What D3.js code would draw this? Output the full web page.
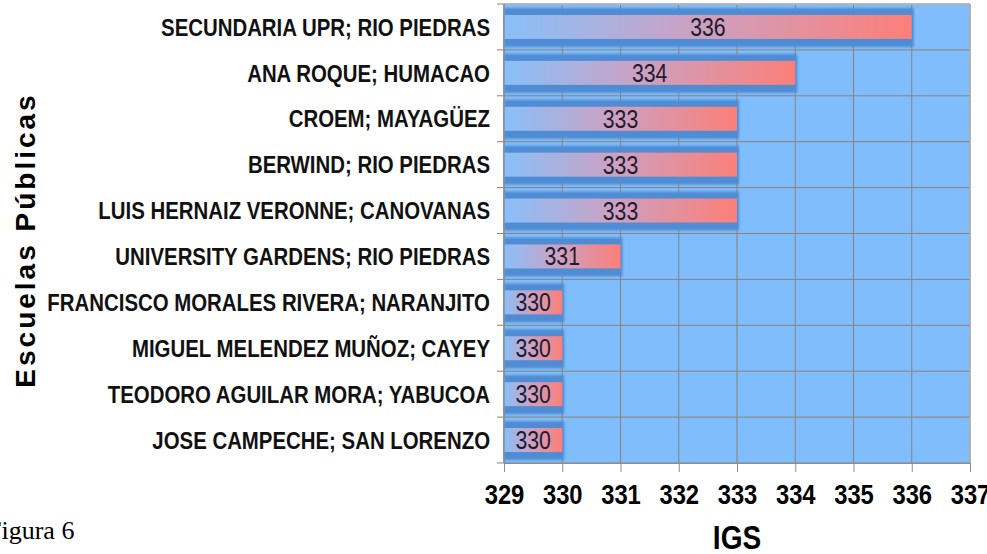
<!DOCTYPE html>
<html>
<head>
<meta charset="utf-8">
<script src="https://cdn.jsdelivr.net/npm/d3@7"></script>
<style>
  body { margin: 0; background: #fff; }
  svg { display: block; }
</style>
</head>
<body>
<div id="chart"></div>
<script>
// data
var schools = [
  "SECUNDARIA UPR; RIO PIEDRAS",
  "ANA ROQUE; HUMACAO",
  "CROEM; MAYAGÜEZ",
  "BERWIND; RIO PIEDRAS",
  "LUIS HERNAIZ VERONNE; CANOVANAS",
  "UNIVERSITY GARDENS; RIO PIEDRAS",
  "FRANCISCO MORALES RIVERA; NARANJITO",
  "MIGUEL MELENDEZ MUÑOZ; CAYEY",
  "TEODORO AGUILAR MORA; YABUCOA",
  "JOSE CAMPECHE; SAN LORENZO"
];
var igs = [336, 334, 333, 333, 333, 331, 330, 330, 330, 330];
var xTicks = [329, 330, 331, 332, 333, 334, 335, 336, 337];

var W = 987, H = 554;
var plotL = 504, plotR = 970, plotT = 4, plotB = 463;
var sans = "'Liberation Sans', Arial, sans-serif";
// no narrow font installed, so squeeze the sans horizontally
var squeeze = " scale(0.85,1)";

var svg = d3.select("#chart").append("svg")
  .attr("width", W)
  .attr("height", H);

var defs = svg.append("defs");
var grad = defs.append("linearGradient")
  .attr("id", "barGrad")
  .attr("x1", "0%").attr("x2", "100%")
  .attr("y1", "0%").attr("y2", "0%");
grad.append("stop").attr("offset", "0%").attr("stop-color", "#88c0fa");
grad.append("stop").attr("offset", "45%").attr("stop-color", "#caa2c4");
grad.append("stop").attr("offset", "100%").attr("stop-color", "#fc7f78");

var blur = defs.append("filter").attr("id", "blur")
  .attr("x", "-10%").attr("y", "-30%").attr("width", "120%").attr("height", "160%");
blur.append("feGaussianBlur").attr("stdDeviation", 1.2);

var x = d3.scaleLinear().domain([329, 337]).range([plotL, plotR]);
var y = d3.scaleBand().domain(schools).range([plotT, plotB]).padding(0);

// plot background
svg.append("rect")
  .attr("x", plotL).attr("y", plotT)
  .attr("width", plotR - plotL).attr("height", plotB - plotT)
  .attr("fill", "#80bdfc");

// grid lines
svg.append("g").selectAll("line")
  .data(xTicks)
  .enter().append("line")
  .attr("x1", function (d) { return x(d); })
  .attr("x2", function (d) { return x(d); })
  .attr("y1", plotT).attr("y2", plotB)
  .attr("stroke", "#8d8078")
  .attr("stroke-width", 1);

var bounds = schools.map(function (d) { return y(d); }).concat([plotB]);
svg.append("g").selectAll("line")
  .data(bounds)
  .enter().append("line")
  .attr("x1", plotL - 7).attr("x2", plotR)
  .attr("y1", function (d) { return d; })
  .attr("y2", function (d) { return d; })
  .attr("stroke", "#8d8078")
  .attr("stroke-width", 1);

// bars
var rows = svg.append("g").selectAll("g")
  .data(schools)
  .enter().append("g");

rows.append("rect")
  .attr("x", plotL)
  .attr("y", function (d) { return y(d) + 4; })
  .attr("width", function (d, i) { return x(igs[i]) - plotL + 2; })
  .attr("height", y.bandwidth() - 7)
  .attr("fill", "#4f8cd4")
  .attr("filter", "url(#blur)");

rows.append("rect")
  .attr("x", plotL)
  .attr("y", function (d) { return y(d) + y.bandwidth() / 2 - 12; })
  .attr("width", function (d, i) { return x(igs[i]) - plotL; })
  .attr("height", 24)
  .attr("fill", "url(#barGrad)");

rows.append("text")
  .attr("transform", function (d, i) {
    return "translate(" + (plotL + x(igs[i])) / 2 + "," + (y(d) + y.bandwidth() / 2) + ")" + squeeze;
  })
  .attr("dy", "0.36em")
  .attr("text-anchor", "middle")
  .attr("font-family", sans)
  .attr("font-size", 25)
  .attr("fill", "#1c1c30")
  .text(function (d, i) { return igs[i]; });

// frame
svg.append("line")
  .attr("x1", plotL).attr("x2", plotR).attr("y1", plotT).attr("y2", plotT)
  .attr("stroke", "#b8b8b8").attr("stroke-width", 1.5);
svg.append("line")
  .attr("x1", plotR).attr("x2", plotR).attr("y1", plotT).attr("y2", plotB)
  .attr("stroke", "#b0b0b0").attr("stroke-width", 1.5);

// axes
var xAxis = svg.append("g")
  .attr("transform", "translate(0," + plotB + ")")
  .call(d3.axisBottom(x).tickValues(xTicks).tickSize(9).tickSizeOuter(0).tickPadding(12));
xAxis.select(".domain").attr("stroke", "#8d8d8d");
xAxis.selectAll(".tick line").attr("stroke", "#8d8d8d");
xAxis.selectAll("text")
  .attr("transform", "translate(0,0)" + squeeze)
  .attr("font-family", sans)
  .attr("font-weight", "bold")
  .attr("font-size", 28)
  .attr("fill", "#000");

svg.append("line")
  .attr("x1", plotL).attr("x2", plotL).attr("y1", plotT).attr("y2", plotB)
  .attr("stroke", "#8d8d8d").attr("stroke-width", 1.5);

svg.append("g").selectAll("text")
  .data(schools)
  .enter().append("text")
  .attr("transform", function (d) {
    return "translate(" + (plotL - 14) + "," + (y(d) + y.bandwidth() / 2) + ")" + squeeze;
  })
  .attr("dy", "0.36em")
  .attr("text-anchor", "end")
  .attr("font-family", sans)
  .attr("font-weight", "bold")
  .attr("font-size", 24)
  .attr("fill", "#111")
  .text(function (d) { return d; });

// titles
svg.append("text")
  .attr("transform", "translate(" + (plotL + plotR) / 2 + ",549)" + squeeze)
  .attr("text-anchor", "middle")
  .attr("font-family", sans)
  .attr("font-weight", "bold")
  .attr("font-size", 33)
  .text("IGS");

svg.append("text")
  .attr("transform", "translate(35,240) rotate(-90)")
  .attr("text-anchor", "middle")
  .attr("font-family", sans)
  .attr("font-weight", "bold")
  .attr("font-size", 28)
  .attr("letter-spacing", 3)
  .text("Escuelas Públicas");

svg.append("text")
  .attr("x", -13)
  .attr("y", 539)
  .attr("font-family", "'Liberation Serif', 'Times New Roman', serif")
  .attr("font-size", 26)
  .text("Figura 6");
</script>
</body>
</html>
